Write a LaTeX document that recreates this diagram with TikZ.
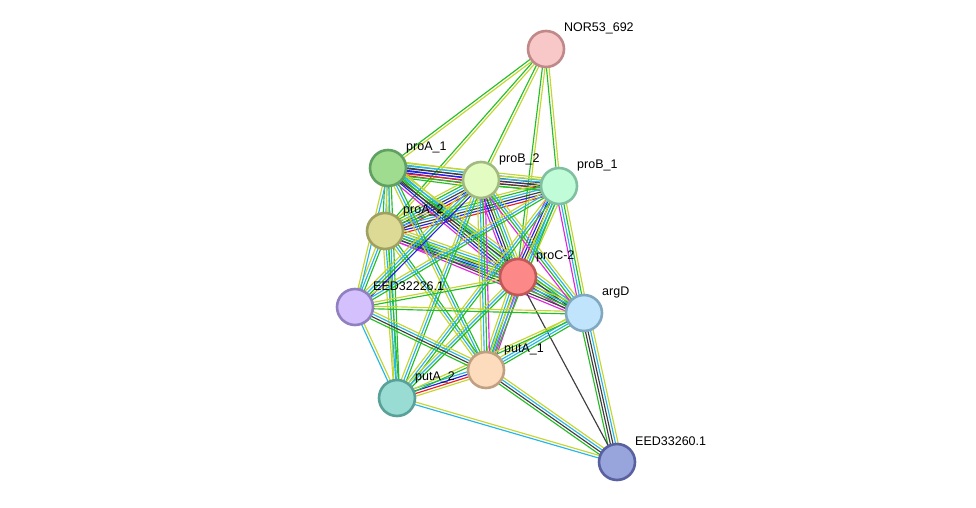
\documentclass[tikz,border=0pt]{standalone}
\usepackage{fontspec}
\setmainfont{Liberation Sans}
\usetikzlibrary{calc,backgrounds}

% Evidence colours of the links
\definecolor{nb}{RGB}{38,190,38}    % neighbourhood
\definecolor{tm}{RGB}{196,214,48}   % textmining
\definecolor{db}{RGB}{40,182,228}   % databases
\definecolor{co}{RGB}{62,62,62}     % coexpression
\definecolor{cc}{RGB}{32,32,232}    % co-occurrence
\definecolor{fu}{RGB}{236,32,32}    % fusion
\definecolor{ex}{RGB}{222,40,222}   % experiments

% Protein colours (fill / rim)
\definecolor{NORFill}{RGB}{248,200,200}  \definecolor{NORRim}{RGB}{192,136,136}
\definecolor{PAaFill}{RGB}{160,220,144}  \definecolor{PAaRim}{RGB}{96,160,96}
\definecolor{PBbFill}{RGB}{226,252,194}  \definecolor{PBbRim}{RGB}{162,186,128}
\definecolor{PBaFill}{RGB}{192,252,216}  \definecolor{PBaRim}{RGB}{128,192,160}
\definecolor{PAbFill}{RGB}{220,218,148}  \definecolor{PAbRim}{RGB}{160,160,96}
\definecolor{PCFill}{RGB}{252,136,136}   \definecolor{PCRim}{RGB}{192,88,88}
\definecolor{EaFill}{RGB}{212,192,252}   \definecolor{EaRim}{RGB}{144,128,192}
\definecolor{ArgFill}{RGB}{192,228,252}  \definecolor{ArgRim}{RGB}{128,168,192}
\definecolor{PUaFill}{RGB}{252,220,188}  \definecolor{PUaRim}{RGB}{192,160,128}
\definecolor{PUbFill}{RGB}{152,220,212}  \definecolor{PUbRim}{RGB}{88,160,152}
\definecolor{EbFill}{RGB}{152,164,220}   \definecolor{EbRim}{RGB}{88,96,160}

\begin{document}
\begin{tikzpicture}[
        % Environment Config
        x=1pt, y=-1pt,
        font=\fontsize{12.5}{14}\selectfont,
        Protein/.style={% Style for the protein circles
          circle,
          fill=#1Fill,
          draw=#1Rim,
          line width=2.6pt,
          minimum size=36pt,
          inner sep=0pt
        },
        NameTag/.style={% Style for the protein names
          anchor=west,
          inner sep=0pt
        },
        EdgeLine/.style={% Style for one evidence line
          line width=1.15pt
        }
      ]

      \def\MyEdge(#1,#2)#3{% Bundle of parallel evidence lines
        \foreach \c [count=\n] in {#3} {\xdef\NumLines{\n}}
        \foreach \c [count=\i] in {#3} {
          \pgfmathsetmacro\Off{(\i-(\NumLines+1)/2)*2.6}
          \draw[EdgeLine,color=\c]
            ($(#1.center)!\Off pt!90:(#2.center)$)
            -- ($(#2.center)!\Off pt!-90:(#1.center)$);
        }
      }
      \def\MyProtein(#1)#2#3#4{% Circle plus its name
        \node[Protein=#2] (#3) at (#1) {};
        \node[NameTag] (#3-name) at ($(#3)+(18,-21)$) {#4};
      }

      \useasboundingbox (0,0) rectangle (976,508);

      % Put the proteins in position
      \MyProtein(546,49){NOR}{NOR53}{NOR53\_692}
      \MyProtein(388,168){PAa}{proA1}{proA\_1}
      \MyProtein(481,180){PBb}{proB2}{proB\_2}
      \MyProtein(559,186){PBa}{proB1}{proB\_1}
      \MyProtein(385,231){PAb}{proA2}{proA\_2}
      \MyProtein(518,277){PC}{proC2}{proC-2}
      \MyProtein(355,307){Ea}{EED32226}{EED32226.1}
      \MyProtein(584,313){Arg}{argD}{argD}
      \MyProtein(486,370){PUa}{putA1}{putA\_1}
      \MyProtein(397,398){PUb}{putA2}{putA\_2}
      \MyProtein(617,462){Eb}{EED33260}{EED33260.1}

      \begin{pgfonlayer}{background}
      %===NOR53_692===
      \MyEdge(NOR53,proA1){nb,tm}
      \MyEdge(NOR53,proA2){nb,tm}
      \MyEdge(NOR53,proB2){nb,tm}
      \MyEdge(NOR53,proB1){nb,tm}
      \MyEdge(NOR53,proC2){nb,tm}

      %===pro cluster===
      \MyEdge(proA1,proB2){nb,fu,cc,cc,co,db,tm}
      \MyEdge(proA1,proB1){nb,fu,cc,co,db,tm}
      \MyEdge(proB2,proB1){nb,co,co,db,tm}
      \MyEdge(proA2,proB2){fu,cc,co,db,nb,tm}
      \MyEdge(proA2,proB1){fu,cc,co,db,nb,tm}
      \MyEdge(proA1,proA2){nb,db,tm}
      \MyEdge(proA1,proC2){ex,cc,co,nb,db,tm}
      \MyEdge(proA2,proC2){ex,cc,co,nb,db,tm}
      \MyEdge(proB2,proC2){ex,cc,co,nb,db,tm}
      \MyEdge(proB1,proC2){ex,cc,co,nb,db,tm}

      %===argD===
      \MyEdge(proC2,argD){ex,co,nb,db,tm}
      \MyEdge(proA1,argD){co,nb,db,tm}
      \MyEdge(proA2,argD){ex,co,nb,db,tm}
      \MyEdge(proB2,argD){ex,nb,db,tm}
      \MyEdge(proB1,argD){ex,db,nb,tm}

      %===EED33260.1===
      \MyEdge(argD,EED33260){nb,co,co,db,tm}
      \MyEdge(proC2,EED33260){co}
      \MyEdge(putA1,EED33260){nb,co,db,tm}
      \MyEdge(putA2,EED33260){db,tm}

      %===putA===
      \MyEdge(putA2,putA1){tm,fu,cc,db}
      \MyEdge(putA1,argD){nb,db,db,tm}
      \MyEdge(putA1,proC2){ex,ex,nb,db,tm}
      \MyEdge(putA1,proA1){nb,db,tm}
      \MyEdge(putA1,proA2){nb,db,tm}
      \MyEdge(putA1,proB2){ex,nb,db,tm}
      \MyEdge(putA1,proB1){nb,db,tm}
      \MyEdge(putA2,proA1){nb,db,tm}
      \MyEdge(putA2,proA2){nb,db,tm}
      \MyEdge(putA2,proB2){nb,db,tm}
      \MyEdge(putA2,proB1){nb,db,tm}
      \MyEdge(putA2,proC2){nb,db,tm}
      \MyEdge(putA2,argD){nb,tm}

      %===EED32226.1===
      \MyEdge(EED32226,putA1){nb,co,db,tm}
      \MyEdge(EED32226,putA2){db,tm}
      \MyEdge(EED32226,argD){nb,tm}
      \MyEdge(EED32226,proC2){nb,tm}
      \MyEdge(EED32226,proA2){nb,db,tm}
      \MyEdge(EED32226,proA1){db,tm}
      \MyEdge(EED32226,proB2){cc,nb,db,tm}
      \MyEdge(EED32226,proB1){nb,db,tm}
      \end{pgfonlayer}

      \end{tikzpicture}
\end{document}
